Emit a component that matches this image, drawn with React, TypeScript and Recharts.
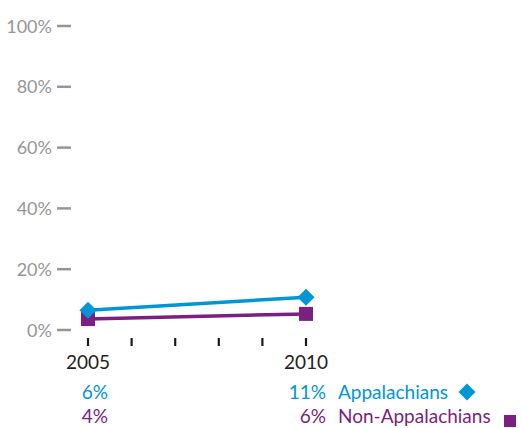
import React from "react";
import { LineChart, Line, XAxis, YAxis } from "recharts";

const years = [2005, 2006, 2007, 2008, 2009, 2010];
const labeledYears = [2005, 2010];
const appalachians = [6.5, 10.8];
const nonAppalachians = [3.6, 5.3];
const appLabels = ["6%", "11%"];
const nonAppLabels = ["4%", "6%"];
const seriesNames = ["Appalachians", "Non-Appalachians"];
const yTicks = [0, 20, 40, 60, 80, 100];

const BLUE = "#0096D6";
const PURPLE = "#7B1F80";
const FONT = "Lato, 'Open Sans', sans-serif";

const data = labeledYears.map((yr, i) => ({
  year: yr,
  app: appalachians[i],
  non: nonAppalachians[i],
}));

const Diamond = (props: any) => {
  const { cx, cy } = props;
  const r = 8.5;
  return (
    <polygon
      points={`${cx},${cy - r} ${cx + r},${cy} ${cx},${cy + r} ${cx - r},${cy}`}
      fill={BLUE}
    />
  );
};

const Square = (props: any) => {
  const { cx, cy } = props;
  const s = 14;
  return <rect x={cx - s / 2} y={cy - s / 2} width={s} height={s} fill={PURPLE} />;
};

const YTick = (props: any) => {
  const { x, y, payload } = props;
  return (
    <g>
      <text
        x={x - 36}
        y={y + 6.5}
        textAnchor="end"
        fill="#969696"
        fontSize={18}
        fontFamily={FONT}
      >
        {payload.value}%
      </text>
      <line x1={x - 31} y1={y} x2={x - 17} y2={y} stroke="#969696" strokeWidth={2.5} />
    </g>
  );
};

const XTick = (props: any) => {
  const { x, y, payload } = props;
  const idx = labeledYears.indexOf(payload.value);
  const isLast = idx === labeledYears.length - 1;
  return (
    <g>
      <line x1={x} y1={y + 8} x2={x} y2={y + 16} stroke="#1a1a1a" strokeWidth={2.2} />
      {idx >= 0 && (
        <g fontFamily={FONT} fontSize={19}>
          <text x={x} y={y + 39} textAnchor="middle" fill="#222">
            {payload.value}
          </text>
          <text x={x + 20} y={y + 69} textAnchor="end" fill={BLUE}>
            {appLabels[idx]}
          </text>
          <text x={x + 20} y={y + 93} textAnchor="end" fill={PURPLE}>
            {nonAppLabels[idx]}
          </text>
          {isLast && (
            <>
              <text x={x + 32} y={y + 69} textAnchor="start" fill={BLUE}>
                {seriesNames[0]}
              </text>
              <text x={x + 32} y={y + 93} textAnchor="start" fill={PURPLE}>
                {seriesNames[1]}
              </text>
              <Diamond cx={x + 161} cy={y + 62} />
              <rect x={x + 198} y={y + 85} width={12} height={12} fill={PURPLE} />
            </>
          )}
        </g>
      )}
    </g>
  );
};

export default function App() {
  return (
    <div style={{ position: "absolute", left: 0, top: 0, background: "#fff" }}>
      <LineChart
        width={522}
        height={428}
        data={data}
        margin={{ top: 26, right: 216, bottom: 0, left: 0 }}
      >
        <XAxis
          dataKey="year"
          type="number"
          domain={[2005, 2010]}
          ticks={years}
          interval={0}
          axisLine={false}
          tickLine={false}
          tickSize={0}
          tickMargin={0}
          height={98}
          tick={<XTick />}
        />
        <YAxis
          type="number"
          domain={[0, 100]}
          ticks={yTicks}
          interval={0}
          axisLine={false}
          tickLine={false}
          tickSize={0}
          tickMargin={0}
          width={88}
          tick={<YTick />}
        />
        <Line
          dataKey="non"
          stroke={PURPLE}
          strokeWidth={3.5}
          dot={<Square />}
          activeDot={false}
          isAnimationActive={false}
        />
        <Line
          dataKey="app"
          stroke={BLUE}
          strokeWidth={3.5}
          dot={<Diamond />}
          activeDot={false}
          isAnimationActive={false}
        />
      </LineChart>
    </div>
  );
}
